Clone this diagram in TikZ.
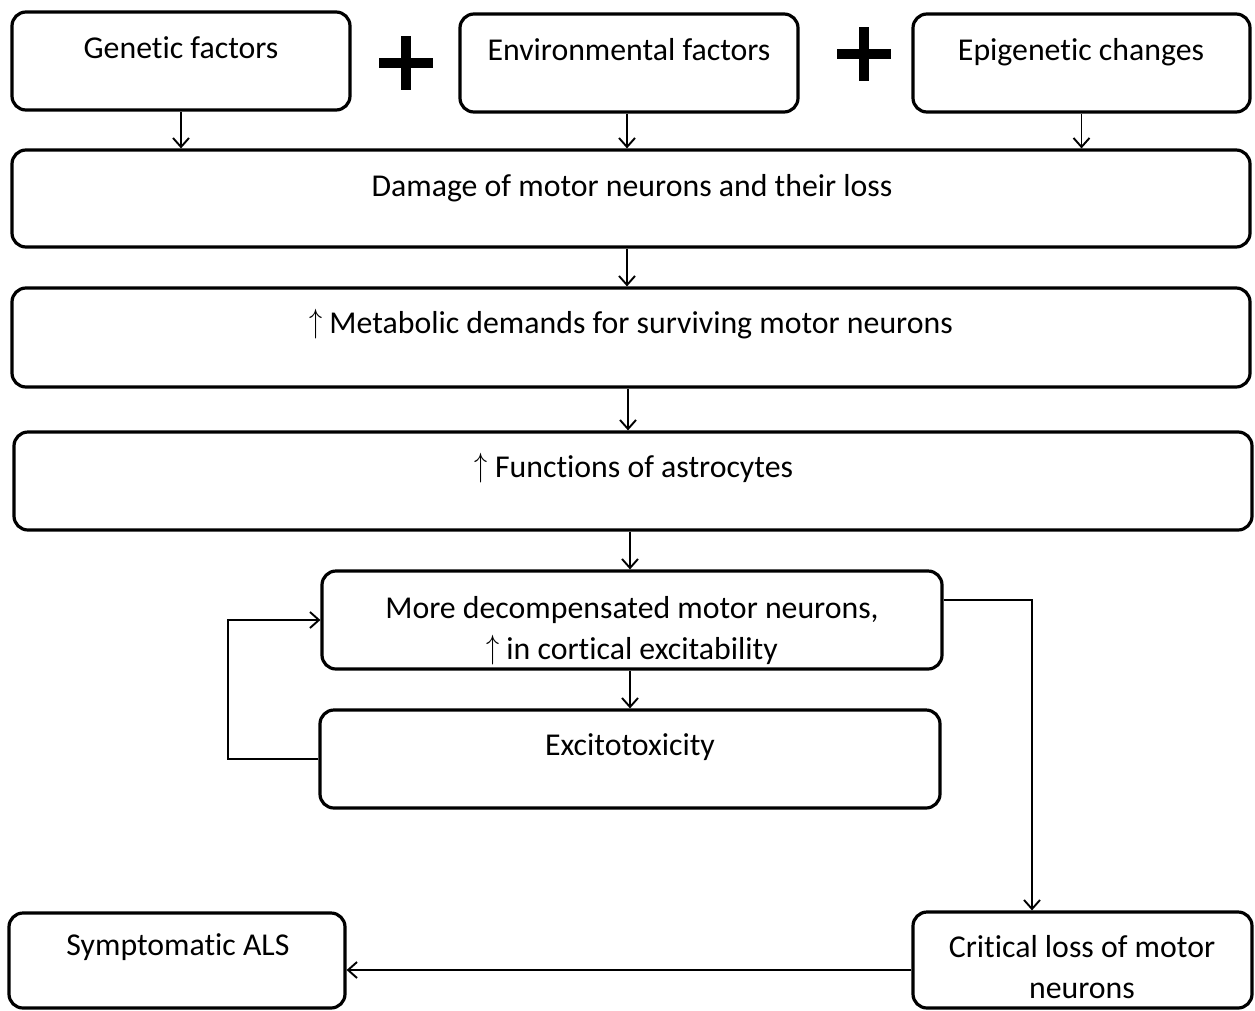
\documentclass[tikz,border=0pt]{standalone}
\usepackage{fontspec}
\setmainfont{Carlito}[Ligatures=NoCommon]
\usetikzlibrary{arrows.meta}
% tall thin up arrow used inside labels
\newcommand\uparr{\raisebox{0.03em}{\scalebox{1.05}[1.35]{$\uparrow$}}}
\begin{document}
\begin{tikzpicture}[x=1pt,y=-1pt,
  box/.style={draw, line width=3.2pt, rounded corners=14pt, inner sep=0pt},
  lbl/.style={font=\fontsize{31.8}{40.5}\selectfont, inner sep=0pt, align=center, anchor=base},
  arr/.style={line width=1.9pt, -{Straight Barb[length=9pt,width=16pt,line width=1.9pt]}},
  plusbar/.style={line width=10pt}]
\useasboundingbox (0,0) rectangle (1255,1010);

% boxes
\node[box, minimum width=338pt, minimum height=98pt] (gen) at (181,61) {};
\node[box, minimum width=338pt, minimum height=98pt] (env) at (629,63) {};
\node[box, minimum width=337pt, minimum height=98pt] (epi) at (1081.5,63) {};
\node[box, minimum width=1238pt, minimum height=97pt] (dam) at (631,198.5) {};
\node[box, minimum width=1238pt, minimum height=99pt] (met) at (631,337.5) {};
\node[box, minimum width=1238pt, minimum height=98pt] (ast) at (633,481) {};
\node[box, minimum width=620pt, minimum height=98pt] (dec) at (632,620) {};
\node[box, minimum width=620pt, minimum height=98pt] (exc) at (630,759) {};
\node[box, minimum width=336pt, minimum height=95pt] (sym) at (177,960.5) {};
\node[box, minimum width=339pt, minimum height=96pt] (crit) at (1082.5,960) {};

% labels (base anchor = last line's baseline)
\node[lbl] (gen-t) at (181,58) {Genetic factors};
\node[lbl] (env-t) at (629,60) {Environmental factors};
\node[lbl] (epi-t) at (1081,60) {Epigenetic changes};
\node[lbl] (dam-t) at (632,196) {Damage of motor neurons and their loss};
\node[lbl] (met-t) at (631,333) {\uparr\ Metabolic demands for surviving motor neurons};
\node[lbl] (ast-t) at (634,477) {\uparr\ Functions of astrocytes};
\node[lbl] (dec-t) at (632,659) {More decompensated motor neurons,\\ \uparr\ in cortical excitability};
\node[lbl] (exc-t) at (630,755) {Excitotoxicity};
\node[lbl] (sym-t) at (178,955) {Symptomatic ALS};
\node[lbl] (crit-t) at (1082,998) {Critical loss of motor\\ neurons};

% plus signs
\coordinate (p1) at (406,63);
\coordinate (p2) at (864,54);
\foreach \p in {p1,p2} {
  \draw[plusbar] ([xshift=-27pt]\p) -- ([xshift=27pt]\p);
  \draw[plusbar] ([yshift=27pt]\p) -- ([yshift=-27pt]\p);
}

% connectors
\draw[arr] (gen.south) -- (gen.south |- dam.north);
\draw[arr] ([xshift=-2pt]env.south) -- ([xshift=-2pt]env.south |- dam.north);
\draw[arr] (epi.south) -- (epi.south |- dam.north);
\draw[arr] ([xshift=-4pt]dam.south) -- ([xshift=-4pt]dam.south |- met.north);
\draw[arr] ([xshift=-3pt]met.south) -- ([xshift=-3pt]met.south |- ast.north);
\draw[arr] ([xshift=-2pt]dec.north |- ast.south) -- ([xshift=-2pt]dec.north);
\draw[arr] (dec.south -| exc.north) -- (exc.north);

% feedback loop
\coordinate (fb) at (228,759);
\draw[arr] (exc.west) -- (fb) |- (dec.west);

% path to critical loss
\coordinate (rt) at (1032,600);
\draw[arr] (dec.east |- rt) -- (rt) -- (rt |- crit.north);

% critical loss to symptomatic
\coordinate (bl) at (0,970);
\draw[arr] (crit.west |- bl) -- (sym.east |- bl);
\end{tikzpicture}
\end{document}
